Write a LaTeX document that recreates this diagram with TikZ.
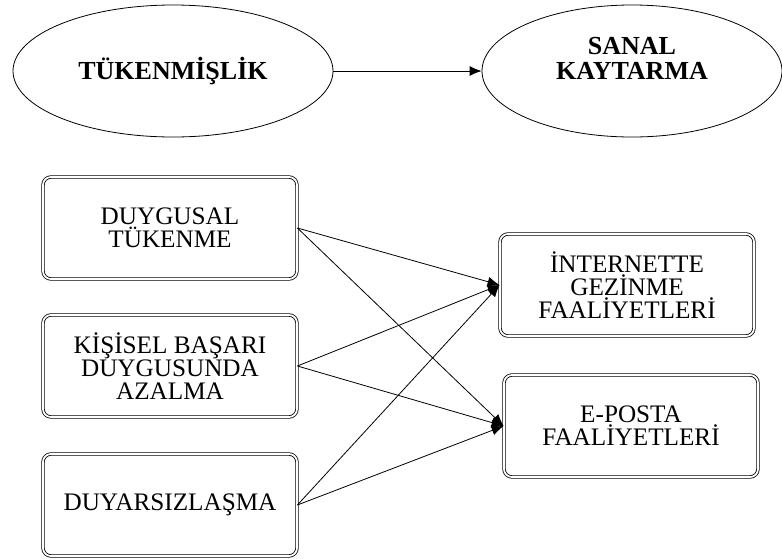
\documentclass[tikz,border=0pt]{standalone}
\usepackage{fontspec}
\setmainfont{Liberation Serif}
\usepackage{tikz}
\usetikzlibrary{arrows.meta,positioning,shapes.geometric}

\begin{document}
\begin{tikzpicture}[
    x=0.5pt, y=-0.5pt,
    font=\fontsize{12.6}{11.4}\selectfont,
    construct/.style={ellipse, draw, thin, align=center, font=\fontsize{13}{12.4}\selectfont\bfseries},
    dimbox/.style={draw, double, double distance=0.9pt, thin, rounded corners=4pt,
      align=center, minimum width=127pt, minimum height=51pt},
    arrow/.style={-{Latex[length=6pt,width=5pt]}, draw=black, thin}
  ]
    \useasboundingbox (0,0) rectangle (782,558);
    % ust model
    \node[construct, minimum width=160pt, minimum height=66pt] (tuk) at (173,71) {TÜKENMİŞLİK};
    \node[construct, minimum width=150pt, minimum height=66pt, text depth=13pt] (sanal) at (632,71) {SANAL\\KAYTARMA};
    \draw[arrow] (tuk) -- (sanal);
    % alt boyutlar
    \foreach \n/\y/\t in {d1/228/{DUYGUSAL\\TÜKENME},
                          d2/366/{KİŞİSEL BAŞARI\\DUYGUSUNDA\\AZALMA},
                          d3/505/{DUYARSIZLAŞMA}} {
      \node[dimbox] (\n) at (170,\y) {\t};
    }
    \node[dimbox] (f1) at (627,285) {İNTERNETTE\\GEZİNME\\FAALİYETLERİ};
    \node[dimbox] (f2) at (631,426) {E-POSTA\\FAALİYETLERİ};
    \foreach \s in {d1,d2,d3} {
      \foreach \t in {f1,f2} {
        \draw[arrow] (\s.east) -- (\t.west);
      }
    }
  \end{tikzpicture}
\end{document}
